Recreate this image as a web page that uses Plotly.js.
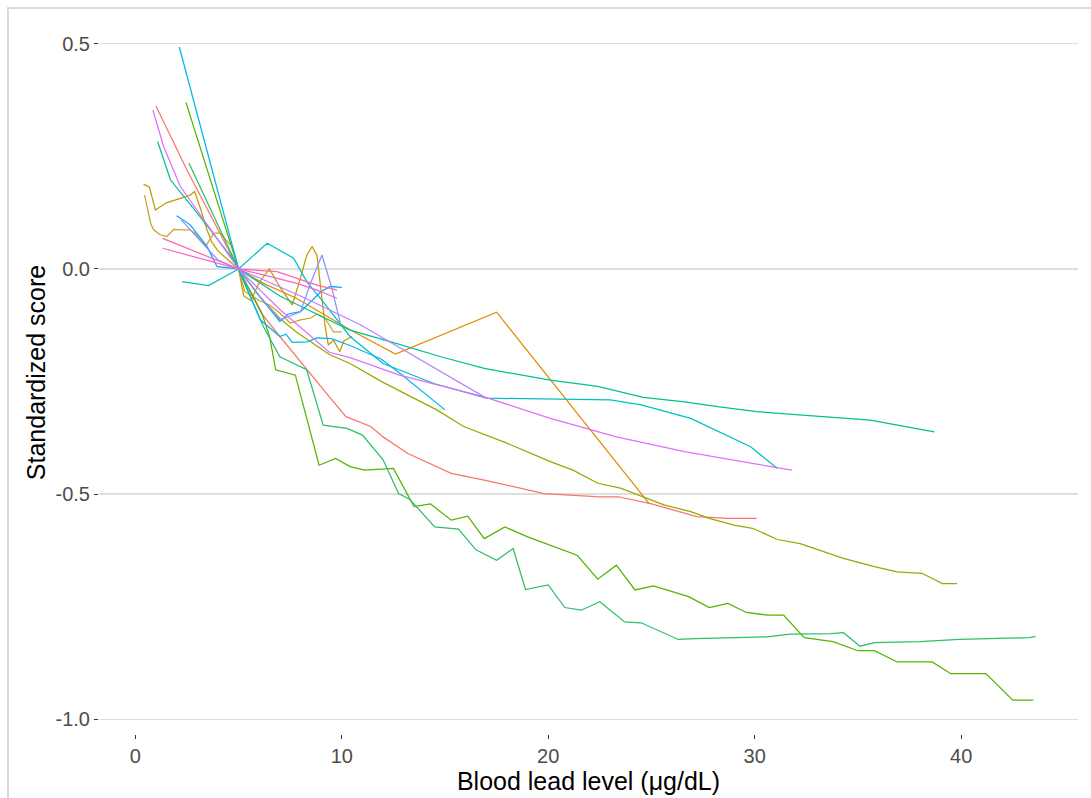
<!DOCTYPE html>
<html>
<head>
<meta charset="utf-8">
<script src="https://cdn.plot.ly/plotly-3.0.1.min.js"></script>
<style>
html,body{margin:0;padding:0;background:#fff;overflow:hidden;}
#wrap{position:relative;width:1091px;height:798px;}
#frame{position:absolute;left:7px;top:7px;width:1200px;height:900px;border:2px solid #d9d9d9;box-sizing:border-box;pointer-events:none;}
#chart{position:absolute;left:0;top:0;width:1091px;height:798px;}
</style>
</head>
<body>
<div id="wrap"><div id="chart"></div><div id="frame"></div></div>
<script>
// ---- data ----
const red_x = [1.0, 2.5, 5, 6.1, 7.0, 8.3, 9.4, 10.2, 11.4, 12.0, 13.2, 15.3, 16.9, 19.8, 22.5, 23.4, 25.0, 27.2, 28.7, 30.1];
const red_y = [0.362, 0.22, 0, -0.098, -0.15, -0.224, -0.284, -0.328, -0.35, -0.373, -0.41, -0.454, -0.469, -0.499, -0.506, -0.506, -0.522, -0.55, -0.554, -0.554];

const orange_x = [5, 6.2, 7.8, 10.4, 12.6, 17.5, 24.9];
const orange_y = [0, -0.032, -0.065, -0.135, -0.189, -0.096, -0.522];

const goldA_x = [0.4, 0.68, 0.97, 1.5, 2.18, 2.66, 2.87, 3.15, 3.47, 3.7, 4.0, 4.5, 5, 5.25, 5.6, 6.0, 6.5, 7.0, 7.6, 8.0, 8.3, 8.56, 8.8, 9.0, 9.2, 9.35, 9.6, 9.9, 10.1, 10.5];
const goldA_y = [0.188, 0.182, 0.131, 0.147, 0.157, 0.164, 0.172, 0.135, 0.087, 0.06, 0.04, 0.02, 0, -0.06, -0.07, -0.03, 0.0, -0.04, -0.08, -0.02, 0.03, 0.05, 0.03, -0.05, -0.13, -0.169, -0.158, -0.184, -0.16, -0.15];

const goldB_x = [0.45, 0.6, 0.75, 0.89, 1.2, 1.53, 1.86, 2.26, 2.66, 2.9, 3.15, 3.4, 3.8, 4.1, 4.4, 4.7, 5, 5.3, 6.0, 6.5, 7.0, 7.5, 8.0, 8.5, 8.8, 9.2, 9.6, 10.0];
const goldB_y = [0.164, 0.13, 0.1, 0.087, 0.076, 0.072, 0.088, 0.087, 0.087, 0.079, 0.064, 0.05, 0.079, 0.08, 0.064, 0.05, 0, -0.05, -0.07, -0.08, -0.098, -0.12, -0.113, -0.109, -0.1, -0.11, -0.14, -0.14];

const olive_x = [5, 6.0, 7.0, 7.8, 9.4, 10.4, 12.0, 13.2, 14.6, 15.9, 18.0, 20.1, 21.2, 22.4, 23.5, 25.6, 26.9, 27.8, 29.0, 29.9, 31.1, 32.2, 34.3, 35.8, 36.9, 38.1, 39.1, 39.8];
const olive_y = [0, -0.06, -0.11, -0.14, -0.19, -0.21, -0.252, -0.28, -0.313, -0.35, -0.387, -0.428, -0.447, -0.476, -0.487, -0.524, -0.539, -0.554, -0.569, -0.576, -0.601, -0.61, -0.643, -0.661, -0.673, -0.676, -0.699, -0.699];

const green1_x = [2.45, 5, 6.13, 6.5, 6.8, 7.75, 8.9, 9.7, 10.4, 11.1, 12.5, 13.5, 14.3, 15.3, 16.1, 16.9, 17.9, 19.0, 21.4, 22.4, 23.3, 24.2, 25.1, 26.8, 27.8, 28.7, 29.6, 30.6, 31.4, 32.4, 33.8, 35.0, 35.8, 36.9, 38.6, 39.5, 41.2, 42.5, 43.5];
const green1_y = [0.37, 0, -0.098, -0.15, -0.224, -0.236, -0.436, -0.421, -0.439, -0.447, -0.443, -0.528, -0.522, -0.558, -0.549, -0.599, -0.573, -0.595, -0.636, -0.689, -0.658, -0.713, -0.704, -0.728, -0.752, -0.743, -0.763, -0.769, -0.769, -0.819, -0.828, -0.848, -0.848, -0.873, -0.873, -0.899, -0.899, -0.958, -0.958];

const green2_x = [2.6, 5, 6.2, 7.0, 8.3, 9.1, 10.25, 11.0, 12.0, 12.75, 13.3, 14.5, 15.65, 16.5, 17.5, 18.3, 18.9, 20.0, 20.8, 21.6, 22.5, 23.7, 24.5, 26.3, 27.1, 28.5, 30.6, 31.7, 33.7, 34.3, 35.1, 35.8, 38.0, 39.9, 41.7, 43.3, 43.6];
const green2_y = [0.235, 0, -0.128, -0.195, -0.224, -0.347, -0.354, -0.369, -0.424, -0.499, -0.512, -0.573, -0.578, -0.624, -0.647, -0.621, -0.712, -0.702, -0.752, -0.758, -0.739, -0.784, -0.786, -0.823, -0.821, -0.819, -0.817, -0.811, -0.81, -0.808, -0.838, -0.83, -0.828, -0.823, -0.821, -0.819, -0.816];

const teal_x = [1.08, 1.7, 3.0, 4.76, 5, 7, 9, 10.4, 12.3, 14.8, 16.9, 20.1, 22.4, 24.6, 26.6, 28.2, 30.1, 32.2, 35.6, 38.7];
const teal_y = [0.283, 0.198, 0.124, 0.02, 0, -0.06, -0.105, -0.136, -0.161, -0.195, -0.221, -0.247, -0.261, -0.285, -0.295, -0.306, -0.317, -0.324, -0.336, -0.362];

const cyan_x = [2.26, 3.55, 5, 6.38, 7.67, 8.3, 9.1, 10.4, 12.0, 14.5, 17.0, 23.0, 24.5, 26.9, 29.8, 31.1];
const cyan_y = [-0.028, -0.037, 0, 0.057, 0.024, -0.028, -0.073, -0.15, -0.21, -0.255, -0.287, -0.291, -0.302, -0.332, -0.395, -0.443];

const sky_x = [2.13, 5, 6.05, 7.0, 7.3, 7.6, 8.3, 8.8, 9.5, 10.4, 11.9, 12.8, 15.0];
const sky_y = [0.493, 0, -0.113, -0.15, -0.145, -0.163, -0.162, -0.153, -0.155, -0.17, -0.2, -0.231, -0.313];

const azure_x = [2.0, 2.66, 3.47, 3.96, 5, 6.0, 7.0, 7.4, 8.0, 8.5, 9.0, 9.44, 10.0];
const azure_y = [0.118, 0.098, 0.05, 0.005, 0, -0.06, -0.117, -0.1, -0.095, -0.072, -0.05, -0.039, -0.041];

const peri_x = [2.2, 3.0, 4.0, 5, 6.0, 7.0, 8.0, 8.5, 9.04, 9.5, 9.93];
const peri_y = [0.11, 0.07, 0.02, 0, -0.06, -0.113, -0.095, -0.03, 0.031, -0.04, -0.12];

const lavender_x = [5, 8.0, 10.9, 17.0];
const lavender_y = [0, -0.06, -0.124, -0.287];

const magenta_x = [0.85, 1.37, 2.18, 3.47, 5, 7, 8.5, 9.4, 10.4, 12.8, 16.9, 20.1, 23.3, 26.6, 31.8];
const magenta_y = [0.353, 0.272, 0.183, 0.1, 0, -0.09, -0.15, -0.185, -0.197, -0.236, -0.284, -0.332, -0.373, -0.406, -0.447];

const pinkA_x = [1.32, 5, 6.86, 7.83, 8.8, 9.44, 9.77];
const pinkA_y = [0.068, 0, -0.006, -0.021, -0.036, -0.043, -0.047];

const pinkB_x = [1.32, 5, 6.2, 7.83, 8.8, 9.77];
const pinkB_y = [0.046, 0, -0.013, -0.032, -0.047, -0.065];

const x_ticks = [0, 10, 20, 30, 40];
const y_ticks = [-1.0, -0.5, 0.0, 0.5];
const y_tick_labels = ['-1.0', '-0.5', '0.0', '0.5'];

// ---- traces ----
const series = [
  [red_x, red_y, '#F8766D'],
  [orange_x, orange_y, '#E38900'],
  [goldA_x, goldA_y, '#C49A00'],
  [goldB_x, goldB_y, '#C9A227'],
  [olive_x, olive_y, '#99A800'],
  [green1_x, green1_y, '#53B400'],
  [green2_x, green2_y, '#2DBF6A'],
  [teal_x, teal_y, '#00C094'],
  [cyan_x, cyan_y, '#00BFC4'],
  [sky_x, sky_y, '#00B6EB'],
  [azure_x, azure_y, '#06A4FF'],
  [peri_x, peri_y, '#8B93FF'],
  [lavender_x, lavender_y, '#B983FF'],
  [magenta_x, magenta_y, '#DF70F8'],
  [pinkA_x, pinkA_y, '#FF66A8'],
  [pinkB_x, pinkB_y, '#FB61D7']
];
const traces = series.map(s => ({
  x: s[0], y: s[1], type: 'scatter', mode: 'lines',
  line: {color: s[2], width: 1.25}, hoverinfo: 'skip', showlegend: false
}));

const fontFam = 'Liberation Sans, Arial, sans-serif';
const layout = {
  width: 1091, height: 798,
  margin: {l: 99, r: 13, t: 11, b: 64, pad: 0},
  paper_bgcolor: 'rgba(0,0,0,0)', plot_bgcolor: '#ffffff',
  font: {family: fontFam, color: '#4D4D4D', size: 20},
  showlegend: false,
  xaxis: {
    range: [-1.76, 45.66], tickvals: x_ticks, ticktext: x_ticks.map(String),
    showgrid: false, zeroline: false, showline: false,
    ticks: 'outside', ticklen: 4, tickwidth: 1, tickcolor: '#333333',
    tickfont: {family: fontFam, size: 20, color: '#4D4D4D'},
    title: {text: 'Blood lead level (\u03bcg/dL)', font: {family: fontFam, size: 25, color: '#000000'}, standoff: 1},
    automargin: false
  },
  yaxis: {
    range: [-1.033, 0.573], tickvals: y_ticks, ticktext: y_tick_labels,
    showgrid: true, gridcolor: '#DEDEDE', gridwidth: 1.2, zeroline: false, showline: false,
    ticks: 'outside', ticklen: 4, tickwidth: 1, tickcolor: '#333333',
    tickfont: {family: fontFam, size: 20, color: '#4D4D4D'},
    title: {text: 'Standardized score', font: {family: fontFam, size: 25, color: '#000000'}, standoff: 2},
    automargin: false
  }
};
Plotly.newPlot('chart', traces, layout, {staticPlot: true, displayModeBar: false});
</script>
</body>
</html>
